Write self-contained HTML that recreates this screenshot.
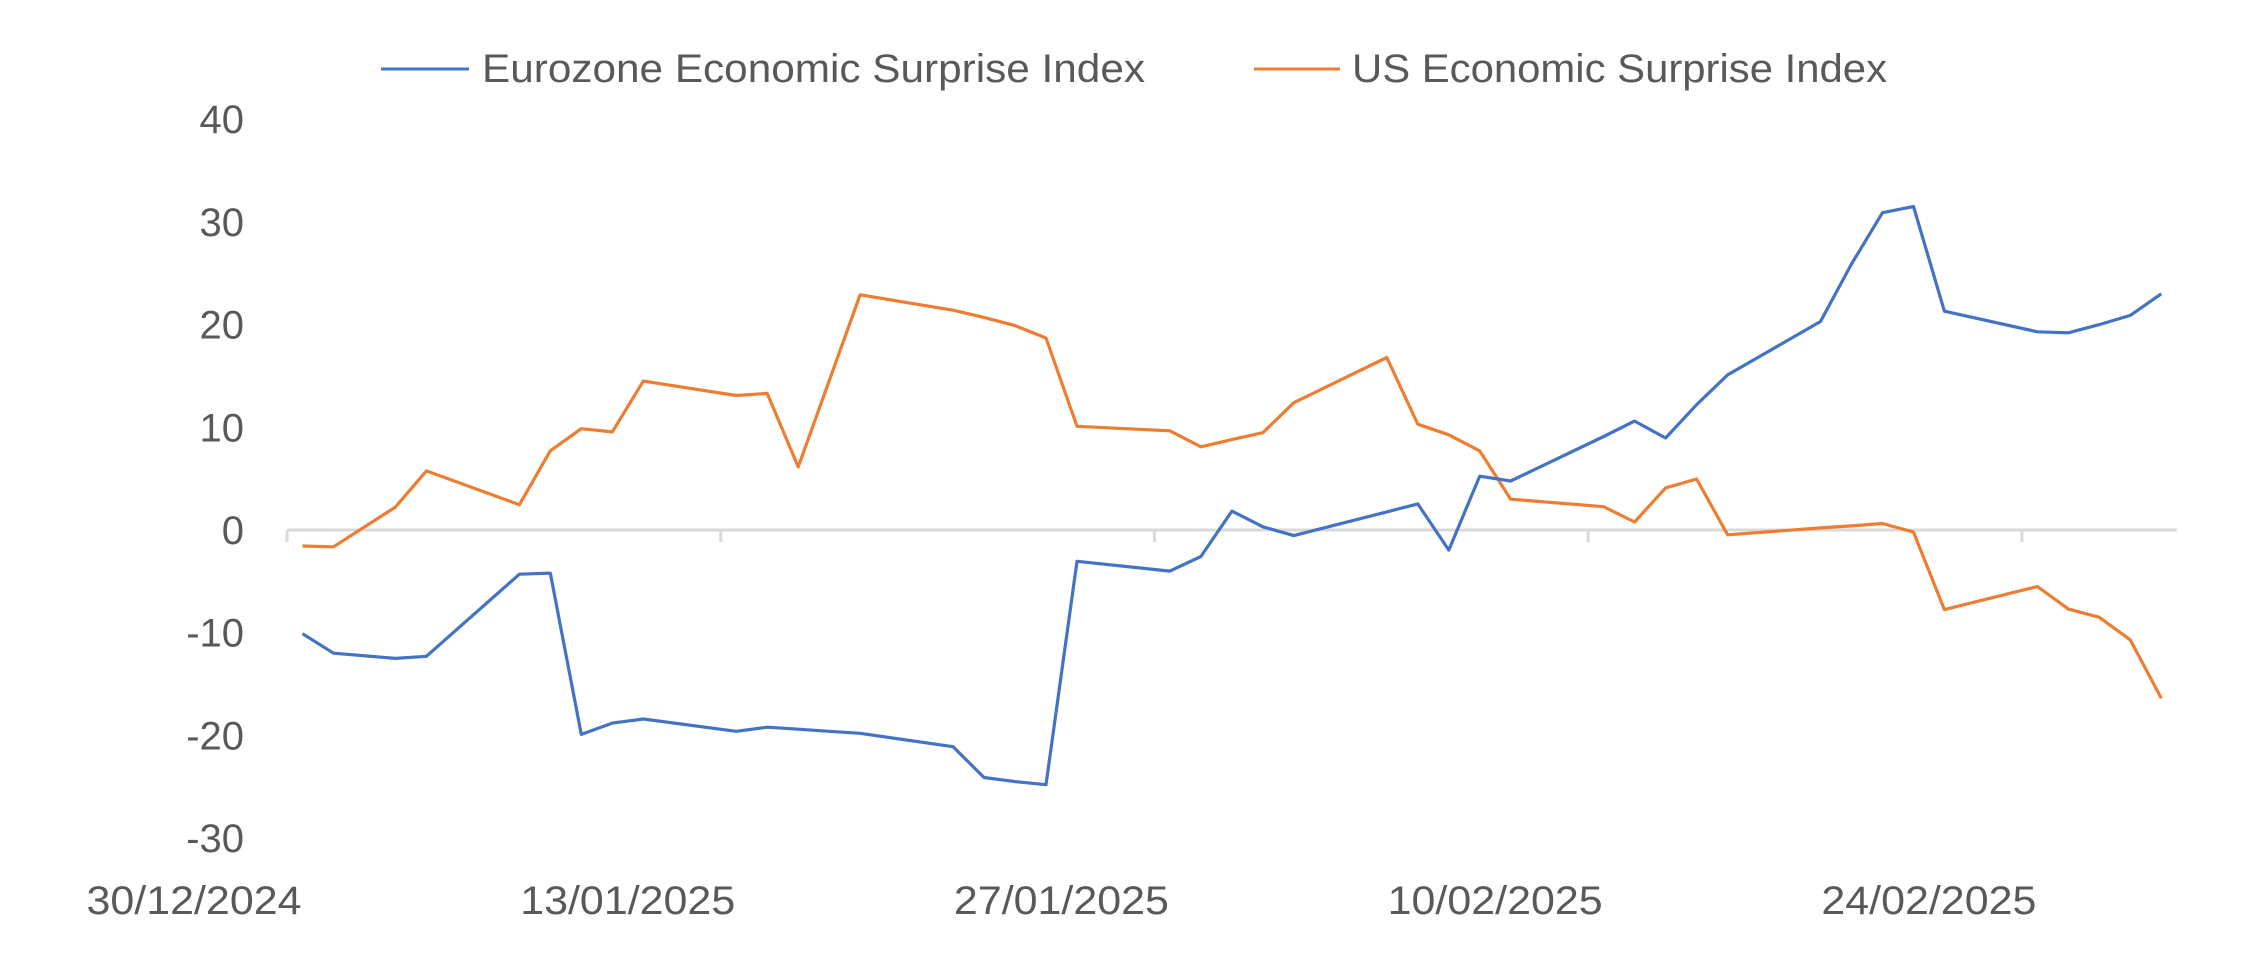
<!DOCTYPE html>
<html><head><meta charset="utf-8"><style>
html,body{margin:0;padding:0;background:#fff;}
svg{display:block;}
text{font-family:"Liberation Sans",sans-serif;fill:#595959;}
</style></head><body>
<svg id="chart" width="2255" height="969" viewBox="0 0 2255 969" xmlns="http://www.w3.org/2000/svg">
<g id="legend">
<line x1="381" y1="69" x2="469" y2="69" stroke="#4472c4" stroke-width="3"/>
<text x="482" y="82" font-size="40" textLength="663" lengthAdjust="spacingAndGlyphs">Eurozone Economic Surprise Index</text>
<line x1="1254" y1="69" x2="1340" y2="69" stroke="#ed7d31" stroke-width="3"/>
<text x="1352" y="82" font-size="40" textLength="535" lengthAdjust="spacingAndGlyphs">US Economic Surprise Index</text>
</g>
<g id="axes"></g>
<g id="series"></g>
</svg>
<script>
const days = [0,1,3,4,7,8,9,10,11,14,15,16,17,18,21,22,23,24,25,28,29,30,31,32,35,36,37,38,39,42,43,44,45,46,49,50,51,52,53,56,57,58,59,60];
const eurozone = [-10.1,-12.0,-12.5,-12.3,-4.3,-4.2,-19.9,-18.8,-18.4,-19.6,-19.2,-19.4,-19.6,-19.8,-21.1,-24.1,-24.5,-24.8,-3.05,-4.0,-2.58,1.84,0.31,-0.55,1.76,2.54,-1.96,5.24,4.77,9.1,10.6,8.96,12.2,15.1,20.3,25.9,30.9,31.5,21.3,19.3,19.2,20.0,20.9,23.0];
const us = [-1.56,-1.64,2.23,5.75,2.46,7.71,9.86,9.55,14.5,13.1,13.3,6.14,14.5,22.9,21.4,20.7,19.9,18.7,10.1,9.66,8.1,8.8,9.47,12.4,16.8,10.3,9.27,7.7,3.0,2.27,0.78,4.1,4.97,-0.47,0.2,0.4,0.63,-0.2,-7.75,-5.5,-7.7,-8.5,-10.7,-16.4];
const yTicks = [40,30,20,10,0,-10,-20,-30];
const xTickDays = [0,14,28,42,56];
const xTickLabels = ["30/12/2024","13/01/2025","27/01/2025","10/02/2025","24/02/2025"];

const NS = "http://www.w3.org/2000/svg";
const X0 = 287, PXD = 30.98, TOTAL = 61;
const Y0 = 530, PXU = 10.27;
function xPos(d){ return X0 + (d + 0.5) * PXD; }
function xTick(d){ return X0 + d * PXD; }
function yPos(v){ return Y0 - v * PXU; }

const axes = document.getElementById('axes');
yTicks.forEach(v => {
  const t = document.createElementNS(NS,'text');
  
  
  t.setAttribute('x', 244);
  t.setAttribute('y', yPos(v) + 14);
  t.setAttribute('font-size', 40);
  t.setAttribute('text-anchor', 'end');
  t.textContent = v;
  axes.appendChild(t);
});
const ax = document.createElementNS(NS,'line');


ax.setAttribute('x1', X0); ax.setAttribute('x2', xTick(TOTAL));
ax.setAttribute('y1', Y0); ax.setAttribute('y2', Y0);
ax.setAttribute('stroke', '#d9d9d9'); ax.setAttribute('stroke-width', 3);
axes.appendChild(ax);
xTickDays.forEach((d, i) => {
  const tk = document.createElementNS(NS,'line');
  
  
  tk.setAttribute('x1', xTick(d)); tk.setAttribute('x2', xTick(d));
  tk.setAttribute('y1', Y0); tk.setAttribute('y2', Y0 + 12);
  tk.setAttribute('stroke', '#d9d9d9'); tk.setAttribute('stroke-width', 3);
  axes.appendChild(tk);
  const t = document.createElementNS(NS,'text');
  
  
  t.setAttribute('x', xTick(d) - 93);
  t.setAttribute('y', 914);
  t.setAttribute('font-size', 40);
  t.setAttribute('text-anchor', 'middle');
  t.setAttribute('textLength', 215);
  t.setAttribute('lengthAdjust', 'spacingAndGlyphs');
  t.textContent = xTickLabels[i];
  axes.appendChild(t);
});

const series = document.getElementById('series');
function drawLine(vals, color, name){
  const p = document.createElementNS(NS,'polyline');
  
  
  p.setAttribute('points', vals.map((v,i) => xPos(days[i]).toFixed(1) + ',' + yPos(v).toFixed(1)).join(' '));
  p.setAttribute('fill', 'none');
  p.setAttribute('stroke', color);
  p.setAttribute('stroke-width', 3.2);
  p.setAttribute('stroke-linejoin', 'round');
  series.appendChild(p);
}
drawLine(us, '#ed7d31', 'us-surprise-line');
drawLine(eurozone, '#4472c4', 'eurozone-surprise-line');
</script>
</body></html>
